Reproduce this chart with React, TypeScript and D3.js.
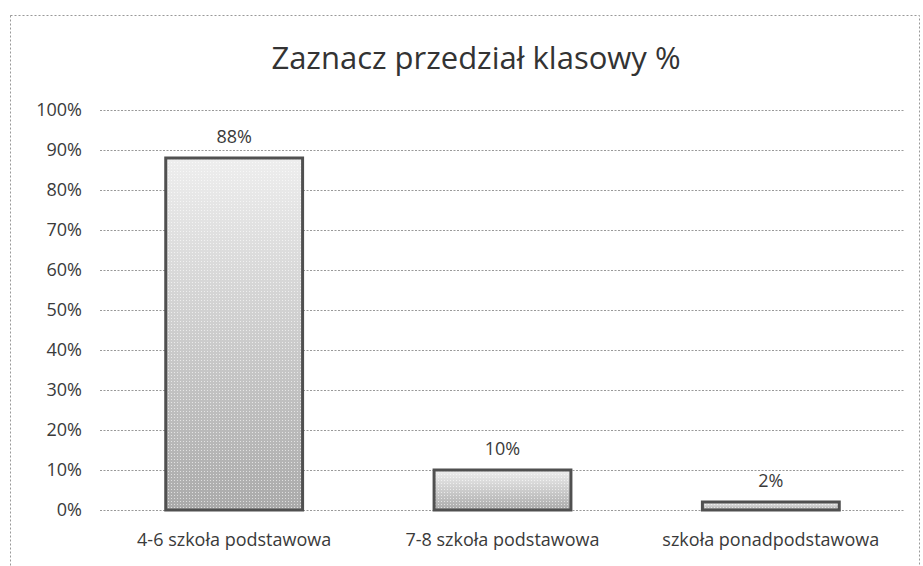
import { useEffect, useRef } from "react";
import * as d3 from "d3";

const categories = ["4-6 szkoła podstawowa", "7-8 szkoła podstawowa", "szkoła ponadpodstawowa"];
const values = [88, 10, 2];
const ticks = [0, 10, 20, 30, 40, 50, 60, 70, 80, 90, 100];
const title = "Zaznacz przedział klasowy %";

const W = 923;
const H = 566;
const FONT = "'Open Sans', 'Noto Sans', sans-serif";

export default function App() {
  const svgRef = useRef<SVGSVGElement | null>(null);

  useEffect(() => {
    const svg = d3.select(svgRef.current);
    svg.selectAll("*").remove();

    const margin = { top: 110, right: 18, bottom: 56, left: 100 };

    const x = d3.scaleBand()
      .domain(categories)
      .range([margin.left, W - margin.right])
      .paddingInner(0.49)
      .paddingOuter(0.245);

    const y = d3.scaleLinear()
      .domain([0, 100])
      .range([H - margin.bottom, margin.top]);

    // fills
    const defs = svg.append("defs");
    const grad = defs.append("linearGradient")
      .attr("id", "barGrad")
      .attr("x1", 0).attr("y1", 0).attr("x2", 0).attr("y2", 1);
    grad.append("stop").attr("offset", "0%").attr("stop-color", "#eeeeee");
    grad.append("stop").attr("offset", "45%").attr("stop-color", "#d0d0d0");
    grad.append("stop").attr("offset", "100%").attr("stop-color", "#aaaaaa");

    const pat = defs.append("pattern")
      .attr("id", "dots")
      .attr("width", 3).attr("height", 3)
      .attr("patternUnits", "userSpaceOnUse");
    pat.append("rect").attr("width", 1).attr("height", 1).attr("fill", "#ffffff").attr("opacity", 0.6);

    // outer frame
    svg.append("rect")
      .attr("x", 10.5).attr("y", 15.5)
      .attr("width", W - 14).attr("height", H - 12)
      .attr("fill", "white")
      .attr("stroke", "#999")
      .attr("stroke-dasharray", "2,2");

    // title
    svg.append("text")
      .attr("x", 476).attr("y", 69)
      .attr("text-anchor", "middle")
      .style("font-family", FONT)
      .style("font-size", "31px")
      .attr("fill", "#333")
      .text(title);

    // gridlines
    svg.append("g").selectAll("line")
      .data(ticks)
      .join("line")
      .attr("x1", margin.left).attr("x2", W - margin.right)
      .attr("y1", (d) => Math.round(y(d)) + 0.5).attr("y2", (d) => Math.round(y(d)) + 0.5)
      .attr("stroke", "#999")
      .attr("stroke-dasharray", "2,1.5");

    // y tick labels
    svg.append("g").selectAll("text")
      .data(ticks)
      .join("text")
      .attr("x", 82)
      .attr("y", (d) => y(d) + 6)
      .attr("text-anchor", "end")
      .style("font-family", FONT)
      .style("font-size", "18px")
      .attr("fill", "#3a3a3a")
      .text((d) => `${d}%`);

    // bars
    const bars = svg.append("g");
    categories.forEach((c, i) => {
      const bx = x(c)!;
      const by = y(values[i]);
      const bh = y(0) - by;
      bars.append("rect")
        .attr("x", bx).attr("y", by)
        .attr("width", x.bandwidth()).attr("height", bh)
        .attr("fill", "url(#barGrad)");
      bars.append("rect")
        .attr("x", bx).attr("y", by)
        .attr("width", x.bandwidth()).attr("height", bh)
        .attr("fill", "url(#dots)");
      bars.append("rect")
        .attr("x", bx).attr("y", by)
        .attr("width", x.bandwidth()).attr("height", bh)
        .attr("fill", "none")
        .attr("stroke", "#505050")
        .attr("stroke-width", 3);

      // value label
      svg.append("text")
        .attr("x", bx + x.bandwidth() / 2)
        .attr("y", by - 15)
        .attr("text-anchor", "middle")
        .style("font-family", FONT)
        .style("font-size", "18px")
        .attr("fill", "#3a3a3a")
        .text(`${values[i]}%`);
    });

    // category labels
    svg.append("g").selectAll("text")
      .data(categories)
      .join("text")
      .attr("x", (d) => x(d)! + x.bandwidth() / 2)
      .attr("y", 546)
      .attr("text-anchor", "middle")
      .style("font-family", FONT)
      .style("font-size", "18px")
      .attr("fill", "#3a3a3a")
      .text((d) => d);
  }, []);

  return (
    <svg
      ref={svgRef}
      width={W}
      height={H}
      style={{ position: "absolute", left: 0, top: 0, background: "white" }}
    />
  );
}
